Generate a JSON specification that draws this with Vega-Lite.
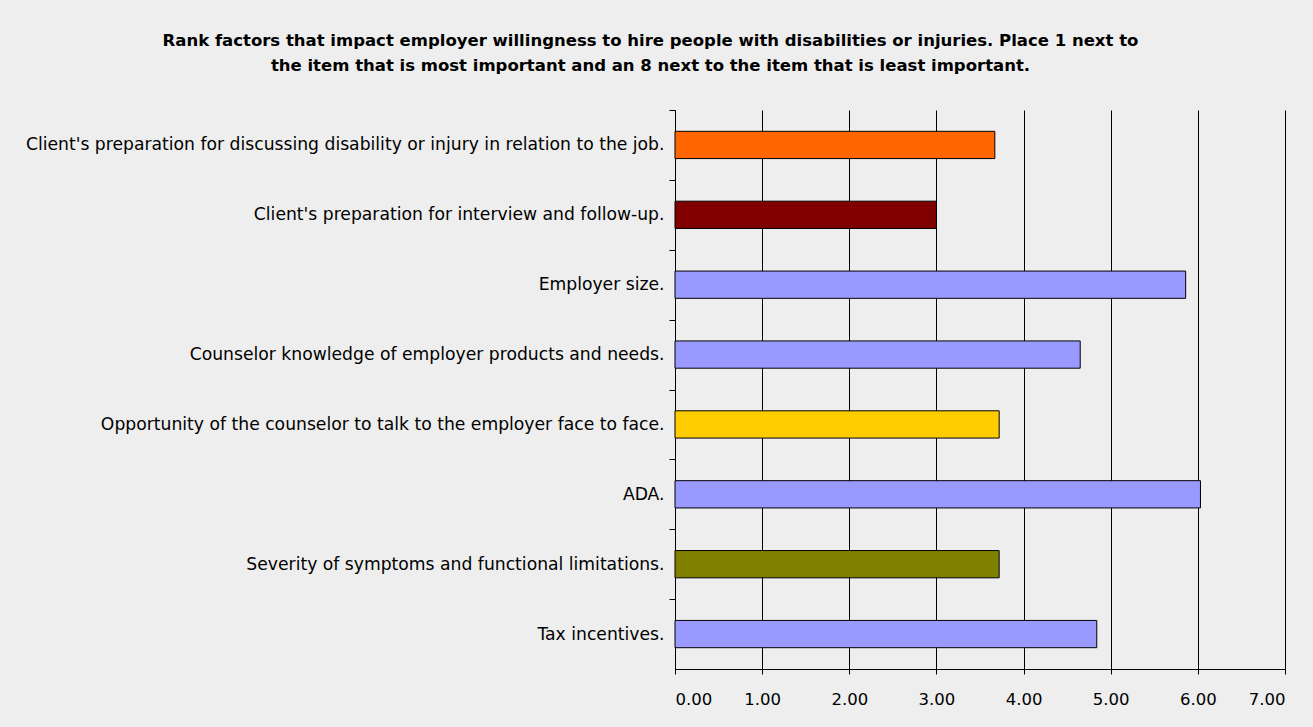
{
  "$schema": "https://vega.github.io/schema/vega-lite/v6.json",
  "autosize": {"type": "none"},
  "padding": {"left": 675, "top": 110, "right": 28, "bottom": 58},
  "width": 610,
  "height": 559,
  "background": "#EEEEEE",
  "title": {
    "text": ["Rank factors that impact employer willingness to hire people with disabilities or injuries. Place 1 next to", "the item that is most important and an 8 next to the item that is least important."],
    "anchor": "middle",
    "frame": "bounds",
    "font": "DejaVu Sans",
    "fontSize": 16.5,
    "fontWeight": "bold",
    "lineHeight": 25.5,
    "color": "#000000",
    "offset": 35,
    "dx": -5
  },
  "data": {
    "values": [
      {"factor": "Client's preparation for discussing disability or injury in relation to the job.", "rank": 3.67},
      {"factor": "Client's preparation for interview and follow-up.", "rank": 3.00},
      {"factor": "Employer size.", "rank": 5.86},
      {"factor": "Counselor knowledge of employer products and needs.", "rank": 4.65},
      {"factor": "Opportunity of the counselor to talk to the employer face to face.", "rank": 3.72},
      {"factor": "ADA.", "rank": 6.03},
      {"factor": "Severity of symptoms and functional limitations.", "rank": 3.72},
      {"factor": "Tax incentives.", "rank": 4.84}
    ]
  },
  "mark": {"type": "bar", "stroke": "#000000", "strokeWidth": 1},
  "encoding": {
    "y": {
      "field": "factor",
      "type": "nominal",
      "sort": null,
      "title": null,
      "scale": {"paddingInner": 0.61, "paddingOuter": 0.305},
      "axis": {
        "bandPosition": 0,
        "tickOffset": -21.3,
        "tickExtra": false,
        "labelOffset": 21.3,
        "tickSize": 6,
        "tickColor": "#000000",
        "domainColor": "#000000",
        "labelFont": "DejaVu Sans",
        "labelFontSize": 17.2,
        "labelColor": "#000000",
        "labelPadding": 5,
        "labelLimit": 700,
        "grid": false
      }
    },
    "x": {
      "field": "rank",
      "type": "quantitative",
      "title": null,
      "scale": {"domain": [0, 7], "nice": false},
      "axis": {
        "values": [0, 1, 2, 3, 4, 5, 6, 7],
        "format": ".2f",
        "grid": true,
        "gridColor": "#000000",
        "gridOpacity": 1,
        "gridWidth": 1,
        "tickSize": 5,
        "tickColor": "#000000",
        "domainColor": "#000000",
        "labelFont": "DejaVu Sans",
        "labelFontSize": 16.5,
        "labelColor": "#000000",
        "labelPadding": 17
      }
    },
    "color": {
      "field": "factor",
      "type": "nominal",
      "legend": null,
      "scale": {
        "domain": [
          "Client's preparation for discussing disability or injury in relation to the job.",
          "Client's preparation for interview and follow-up.",
          "Employer size.",
          "Counselor knowledge of employer products and needs.",
          "Opportunity of the counselor to talk to the employer face to face.",
          "ADA.",
          "Severity of symptoms and functional limitations.",
          "Tax incentives."
        ],
        "range": ["#FF6600", "#800000", "#9999FF", "#9999FF", "#FFCC00", "#9999FF", "#808000", "#9999FF"]
      }
    }
  },
  "config": {
    "view": {"stroke": null}
  }
}
